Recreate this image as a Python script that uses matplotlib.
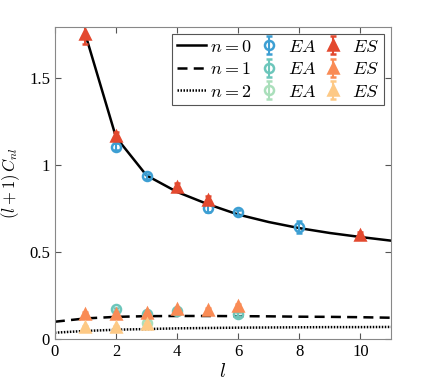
import matplotlib
matplotlib.use('Agg')
import matplotlib.pyplot as plt

plt.rcParams['font.family'] = ['Liberation Serif', 'DejaVu Serif']
plt.rcParams['mathtext.fontset'] = 'cm'

# theory curves
l_n0 = [1, 2, 3, 4, 5, 6, 7, 8, 9, 10, 11]
c_n0 = [1.75, 1.16, 0.94, 0.845, 0.775, 0.715, 0.672, 0.637, 0.609, 0.586, 0.565]
l_n12 = [0, 1, 2, 3, 4, 5, 6, 7, 8, 9, 10, 11]
c_n1 = [0.099, 0.118, 0.127, 0.131, 0.132, 0.132, 0.131, 0.130, 0.128, 0.127, 0.125, 0.122]
c_n2 = [0.036, 0.046, 0.053, 0.057, 0.061, 0.063, 0.065, 0.066, 0.067, 0.068, 0.068, 0.069]

# EA data
ea0_l = [2, 3, 5, 6, 8]
ea0_c = [1.105, 0.935, 0.755, 0.728, 0.645]
ea0_e = [0.02, 0.015, 0.025, 0.015, 0.035]
ea1_l = [2, 3, 4, 6]
ea1_c = [0.17, 0.144, 0.163, 0.144]
ea1_e = [0.01, 0.01, 0.01, 0.01]
ea2_l = [3]
ea2_c = [0.094]
ea2_e = [0.01]

# ES data
es0_l = [1, 2, 4, 5, 10]
es0_c = [1.753, 1.167, 0.875, 0.80, 0.60]
es0_e = [0.06, 0.02, 0.02, 0.02, 0.015]
es1_l = [1, 2, 3, 4, 5, 6]
es1_c = [0.144, 0.144, 0.151, 0.17, 0.167, 0.19]
es1_e = [0.01, 0.01, 0.01, 0.01, 0.01, 0.01]
es2_l = [1, 2, 3]
es2_c = [0.067, 0.067, 0.086]
es2_e = [0.008, 0.008, 0.008]

blues = ['#3d9fd3', '#6cc6bb', '#aadfbb']
reds = ['#e3492f', '#f98b55', '#fdc985']

fig = plt.figure(figsize=(4.32, 3.83), dpi=100)
ax = fig.add_axes([0.127, 0.115, 0.778, 0.8145])

h0, = ax.plot(l_n0, c_n0, '-', color='k', lw=1.8)
h1, = ax.plot(l_n12, c_n1, '--', color='k', lw=1.8, dashes=(4, 2.5))
h2, = ax.plot(l_n12, c_n2, ':', color='k', lw=1.8, dashes=(0.6, 0.6))

kw = dict(ls='none', ms=6.5, mew=1.8, capsize=2.5, elinewidth=1.5, capthick=1.5)
ea = []
for ll, cc, ee, col in [(ea0_l, ea0_c, ea0_e, blues[0]),
                        (ea1_l, ea1_c, ea1_e, blues[1]),
                        (ea2_l, ea2_c, ea2_e, blues[2])]:
    ea.append(ax.errorbar(ll, cc, yerr=ee, marker='o', color=col, mfc='none', **kw))
es = []
for ll, cc, ee, col in [(es0_l, es0_c, es0_e, reds[0]),
                        (es1_l, es1_c, es1_e, reds[1]),
                        (es2_l, es2_c, es2_e, reds[2])]:
    es.append(ax.errorbar(ll, cc, yerr=ee, marker='^', color=col, mfc=col, **kw))

ax.set_xlim(0, 11)
ax.set_ylim(0, 1.793)
ax.set_xticks([0, 2, 4, 6, 8, 10])
ax.set_yticks([0, 0.5, 1, 1.5])
ax.set_yticklabels(['0', '0.5', '1', '1.5'])
ax.tick_params(direction='in', top=True, right=True, labelsize=12, length=4, color='#555555')
for s in ax.spines.values():
    s.set_color('#888888')
ax.set_xlabel('$l$', fontsize=14, labelpad=2)
ax.set_ylabel('$(l+1)\\,C_{nl}$', fontsize=12)
ax.yaxis.set_label_coords(-0.098, 0.5)

handles = [h0, h1, h2] + ea + es
labels = ['$n=0$', '$n=1$', '$n=2$', '$EA$', '$EA$', '$EA$', '$ES$', '$ES$', '$ES$']
leg = ax.legend(handles, labels, ncol=3, loc='upper right', fontsize=13,
                handlelength=1.6, handletextpad=0.25, columnspacing=0.15,
                labelspacing=0.3, borderpad=0.25, borderaxespad=0.4,
                fancybox=False, framealpha=1)
leg.get_frame().set_edgecolor('#555555')
leg.get_frame().set_linewidth(0.8)

fig.savefig('out.png', dpi=100)
